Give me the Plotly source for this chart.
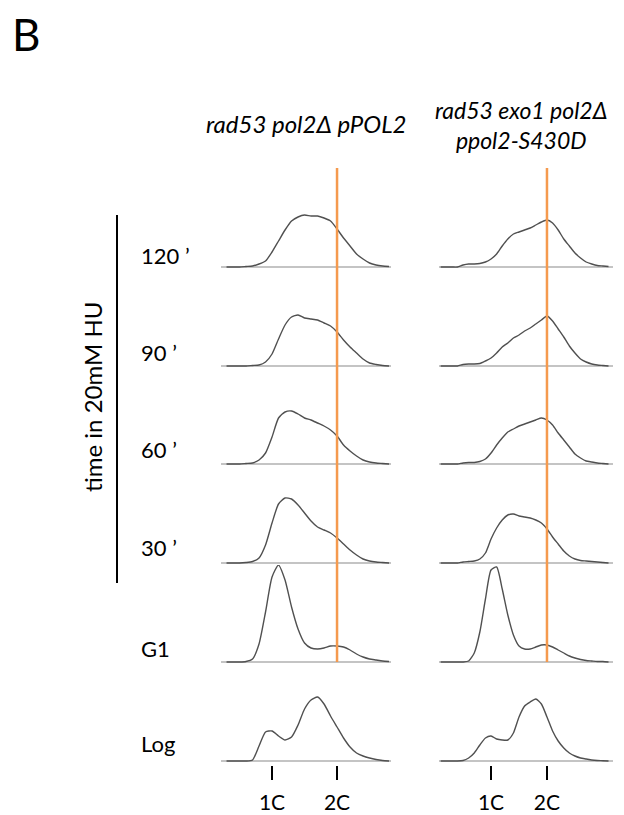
import plotly.graph_objects as go
from plotly.subplots import make_subplots

# ---------------- data ----------------
dna_left = [0.3, 0.4, 0.5, 0.6, 0.7, 0.8, 0.9, 1.0, 1.1, 1.2, 1.3, 1.4, 1.5,
            1.6, 1.7, 1.8, 1.9, 2.0, 2.1, 2.2, 2.3, 2.4, 2.5, 2.6, 2.7, 2.8]
dna_right = [0.1, 0.2, 0.3, 0.4, 0.5, 0.6, 0.7, 0.8, 0.9, 1.0, 1.1, 1.2, 1.3,
             1.4, 1.5, 1.6, 1.7, 1.8, 1.9, 2.0, 2.1, 2.2, 2.3, 2.4, 2.5, 2.6,
             2.7, 2.8, 2.9, 3.0, 3.1]

row_labels = ["120 ’", "90 ’", "60 ’", "30 ’", "G1", "Log"]
strain_titles = ["<i>rad53 pol2Δ pPOL2</i>",
                 "<i>rad53 exo1 pol2Δ</i><br><i>ppol2-S430D</i>"]
tick_vals = [1, 2]
tick_text = ["1C", "2C"]

# rad53 pol2Δ pPOL2 (cell counts)
left_120 = [0, 0, 0, 0.5, 1, 3, 6, 15, 26, 37, 46, 50, 52, 51, 51, 49, 46, 38,
            29, 21, 13, 8, 4, 2, 1, 0.5]
left_90 = [0, 0, 0, 0, 0.5, 1, 4, 12, 27, 41, 49, 51, 48, 47, 46, 43, 40, 34,
           26, 19, 13, 7, 3, 1.5, 0.5, 0]
left_60 = [0, 0, 0, 0.5, 1, 4, 11, 27, 46, 52, 53, 50, 46, 44, 41, 38, 34, 28,
           19, 13, 8, 4, 2, 1, 0.5, 0]
left_30 = [0, 0, 0, 0.5, 1.5, 5, 18, 40, 59, 65, 64, 58, 50, 42, 36, 33, 30,
           25, 19, 13, 8, 4, 2, 1, 0.5, 0]
left_g1 = [0, 0, 0, 0.5, 3, 18, 50, 85, 97, 82, 55, 33, 19, 14, 13, 14, 16,
           16, 15, 12, 8, 5, 3, 2, 1, 0.5]
left_log = [0, 0, 0, 0, 1, 15, 29, 30, 25, 21, 24, 36, 52, 61, 64, 57, 45, 34,
            23, 14, 8, 5, 3, 1.5, 0.5, 0]

# rad53 exo1 pol2Δ ppol2-S430D (cell counts)
right_120 = [0, 0, 0, 0, 2, 3, 3, 3.5, 5, 8, 13, 21, 28, 33, 35, 37, 39, 42,
             45, 47, 44, 37, 28, 21, 14, 9, 5, 3, 1.5, 1, 0.5]
right_90 = [0, 0, 0, 0, 1.5, 2, 2, 2.5, 5, 8, 13, 19, 23, 28, 31, 35, 38, 42,
            46, 50, 45, 37, 29, 20, 13, 7, 4, 2, 1, 0.5, 0]
right_60 = [0, 0, 0, 0, 1, 1.5, 1.5, 2.5, 5, 11, 19, 26, 32, 35, 38, 40, 42,
            44, 46, 44, 39, 31, 24, 17, 10, 6, 3, 2, 1, 0.5, 0]
right_30 = [0, 0, 0, 0, 1, 1.5, 2, 4, 10, 24, 35, 43, 48, 49, 47, 46, 45, 43,
            40, 34, 26, 19, 12, 7, 4, 2.5, 2, 1.5, 1, 0.5, 0]
right_g1 = [0, 0, 0, 0, 0, 1, 9, 30, 63, 92, 95, 73, 47, 27, 16, 13, 13, 15,
            17, 17, 15, 12, 9, 6, 4, 2.5, 1.5, 1, 0.5, 0.5, 0]
right_log = [0, 0, 0, 0, 0.5, 3, 8, 16, 23, 25, 22, 21, 21, 28, 44, 55, 59, 62,
             57, 44, 30, 20, 13, 8, 5, 3, 2, 1, 0.5, 0.3, 0]

left_series = [left_120, left_90, left_60, left_30, left_g1, left_log]
right_series = [right_120, right_90, right_60, right_30, right_g1, right_log]

# ---------------- layout geometry (page pixels) ----------------
OFF = 8                      # default page margin around the figure div
W, H = 624 - OFF, 815 - OFF  # figure size


def px_x(p):
    return (p - OFF) / W


def px_y(p):
    return 1 - (p - OFF) / H


baselines_px = [267, 366, 464, 563, 662, 761]
col_px = [(221, 391), (439, 613)]
x_ranges = [[0.215, 2.83], [0.07, 3.18]]
CURVE = "#505050"
BASE = "#c4c4c4"
ORANGE = "#F59A4E"
FONT = "Lato"

fig = make_subplots(rows=6, cols=2)

for r in range(6):
    for c, (xs, series) in enumerate([(dna_left, left_series), (dna_right, right_series)]):
        fig.add_trace(go.Scatter(x=xs, y=series[r], mode="lines",
                                 line=dict(color=CURVE, width=1.4, shape="spline",
                                           smoothing=0.6),
                                 showlegend=False, hoverinfo="skip"),
                      row=r + 1, col=c + 1)

for r, b in enumerate(baselines_px):
    for c in range(2):
        idx = r * 2 + c + 1
        xa = "xaxis" if idx == 1 else f"xaxis{idx}"
        ya = "yaxis" if idx == 1 else f"yaxis{idx}"
        bottom = r == 5
        fig.layout[xa].update(
            domain=[px_x(col_px[c][0]), px_x(col_px[c][1])],
            range=x_ranges[c], showgrid=False, zeroline=False, showline=False,
            ticks="outside" if bottom else "", tickvals=tick_vals if bottom else [],
            ticktext=tick_text if bottom else [], showticklabels=bottom,
            ticklen=14, tickwidth=2, tickcolor="black",
            tickfont=dict(family=FONT, size=21, color="black"),
            ticklabelstandoff=5)
        fig.layout[ya].update(
            domain=[px_y(b + 4), px_y(b - 97)],
            range=[-4, 97], showgrid=False, showline=False,
            showticklabels=False, ticks="",
            zeroline=True, zerolinecolor=BASE, zerolinewidth=2)

shapes = []
# orange 2C reference lines
for xr in ["x", "x2"]:
    shapes.append(dict(type="line", xref=xr, yref="paper", x0=2, x1=2,
                       y0=px_y(662), y1=px_y(168),
                       line=dict(color=ORANGE, width=2.5)))
# bracket line for time in HU
shapes.append(dict(type="line", xref="paper", yref="paper",
                   x0=px_x(117), x1=px_x(117), y0=px_y(583), y1=px_y(215),
                   line=dict(color="black", width=2)))

annotations = []
label_y = [255, 352, 449, 547, 648, 743]
for lab, yy in zip(row_labels, label_y):
    annotations.append(dict(text=lab, xref="paper", yref="paper",
                            x=px_x(139), y=px_y(yy), xanchor="left", yanchor="middle",
                            showarrow=False, font=dict(family=FONT, size=22, color="black")))
annotations.append(dict(text="time in 20mM HU", xref="paper", yref="paper",
                        x=px_x(93), y=px_y(397), textangle=-90, showarrow=False,
                        xanchor="center", yanchor="middle",
                        font=dict(family=FONT, size=24, color="black")))
annotations.append(dict(text=strain_titles[0], xref="paper", yref="paper",
                        x=px_x(306), y=px_y(123), showarrow=False,
                        xanchor="center", yanchor="middle",
                        font=dict(family=FONT, size=24, color="black")))
annotations.append(dict(text=strain_titles[1], xref="paper", yref="paper",
                        x=px_x(521), y=px_y(125), showarrow=False,
                        xanchor="center", yanchor="middle",
                        font=dict(family=FONT, size=23, color="black")))
annotations.append(dict(text="B", xref="paper", yref="paper",
                        x=px_x(10), y=px_y(34), showarrow=False,
                        xanchor="left", yanchor="middle",
                        font=dict(family=FONT, size=44, color="black")))

fig.update_layout(width=W, height=H, margin=dict(l=0, r=0, t=0, b=0),
                  paper_bgcolor="white", plot_bgcolor="rgba(0,0,0,0)",
                  shapes=shapes, annotations=annotations, showlegend=False)

fig.write_html("out.html")
